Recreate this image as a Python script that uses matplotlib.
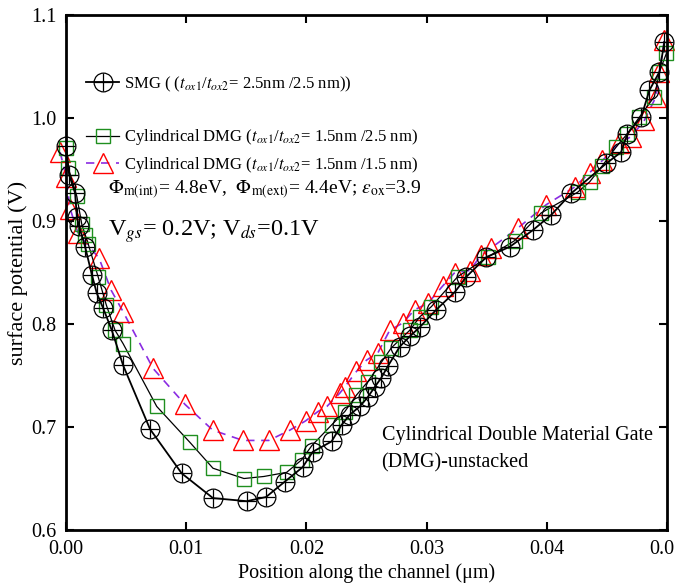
import matplotlib
matplotlib.use("Agg")
import matplotlib.pyplot as plt
import numpy as np

plt.rcParams['font.family'] = ['Liberation Serif', 'DejaVu Serif']
plt.rcParams['mathtext.fontset'] = 'stix'

# SMG (tox1/tox2 = 2.5nm/2.5nm)
smg_x = [0.0000, 0.00025, 0.00075, 0.00089, 0.00108, 0.00158, 0.00214, 0.00255,
         0.00308, 0.0038, 0.00474, 0.00698, 0.00962, 0.01222, 0.01502, 0.01663,
         0.0182, 0.01968, 0.02053, 0.02209, 0.02292, 0.02361, 0.02444, 0.0251,
         0.02569, 0.02624, 0.02677, 0.02776, 0.0286, 0.02943, 0.03081, 0.03234,
         0.03331, 0.03497, 0.03691, 0.03882, 0.04037, 0.04204, 0.04495, 0.04619,
         0.04672, 0.04786, 0.04854, 0.04938, 0.04979]
smg_v = [0.973, 0.945, 0.927, 0.904, 0.895, 0.875, 0.848, 0.830,
         0.8155, 0.794, 0.760, 0.698, 0.655, 0.631, 0.628, 0.632,
         0.647, 0.661, 0.676, 0.686, 0.702, 0.712, 0.720, 0.729,
         0.739, 0.748, 0.759, 0.778, 0.788, 0.797, 0.814, 0.831,
         0.846, 0.865, 0.875, 0.891, 0.906, 0.927, 0.956, 0.967,
         0.985, 1.001, 1.027, 1.045, 1.074]

# Cylindrical DMG (tox1/tox2 = 1.5nm/2.5nm)
dmg1_x = [0.0000, 0.00017, 0.00089, 0.0013, 0.00158, 0.00183, 0.00266, 0.00333,
          0.00407, 0.00474, 0.00754, 0.01031, 0.01222, 0.0148, 0.01646, 0.01835,
          0.01959, 0.02045, 0.02209, 0.02319, 0.02416, 0.0251, 0.02624, 0.02707,
          0.0286, 0.02943, 0.0304, 0.03258, 0.03508, 0.03732, 0.03954, 0.04256,
          0.04356, 0.04464, 0.04578, 0.04672, 0.04771, 0.04896, 0.04938, 0.04996]
dmg1_v = [0.971, 0.952, 0.924, 0.897, 0.887, 0.878, 0.846, 0.819,
          0.794, 0.781, 0.720, 0.685, 0.660, 0.650, 0.652, 0.656,
          0.668, 0.682, 0.702, 0.715, 0.731, 0.744, 0.763, 0.777,
          0.794, 0.807, 0.817, 0.846, 0.865, 0.881, 0.908, 0.928,
          0.938, 0.954, 0.972, 0.985, 1.001, 1.021, 1.045, 1.063]

# Cylindrical DMG (tox1/tox2 = 1.5nm/1.5nm)
dmg2_x = [-0.0005, 0.0000, 0.00033, 0.0010, 0.00274, 0.00374, 0.00474, 0.00723,
          0.00989, 0.0122, 0.01471, 0.01687, 0.01862, 0.01993, 0.02095, 0.0217,
          0.02278, 0.02319, 0.02416, 0.0250, 0.02594, 0.02693, 0.02801, 0.02901,
          0.03009, 0.03134, 0.03234, 0.03358, 0.03455, 0.03538, 0.03757, 0.03996,
          0.04231, 0.04356, 0.04464, 0.04605, 0.04702, 0.04813, 0.0491, 0.04938,
          0.04979]
dmg2_v = [0.967, 0.943, 0.912, 0.888, 0.864, 0.833, 0.812, 0.757,
          0.722, 0.697, 0.687, 0.687, 0.697, 0.706, 0.715, 0.720,
          0.733, 0.739, 0.754, 0.765, 0.772, 0.794, 0.801, 0.814,
          0.820, 0.837, 0.850, 0.852, 0.867, 0.874, 0.893, 0.916,
          0.933, 0.947, 0.959, 0.976, 0.982, 0.998, 1.021, 1.045,
          1.076]

xticks = [0.00, 0.01, 0.02, 0.03, 0.04, 0.05]
yticks = [0.6, 0.7, 0.8, 0.9, 1.0, 1.1]

fig = plt.figure(figsize=(6.75, 5.85), dpi=100)
ax = fig.add_axes([0.098, 0.094, 0.89, 0.880])

purple = '#8a2be2'
green = '#1f8f1f'

l3, = ax.plot(dmg2_x, dmg2_v, '--', color=purple, lw=1.2, dashes=(5, 4),
              marker='^', ms=15, mfc='none', mec='red', mew=1.0, clip_on=False)
l2, = ax.plot(dmg1_x, dmg1_v, '-', color='black', lw=0.9,
              marker='s', ms=10, mfc='none', mec=green, mew=1.0, clip_on=False)
l1a, = ax.plot(smg_x, smg_v, '-', color='black', lw=1.3,
               marker='o', ms=13.5, mfc='none', mec='black', mew=0.9, clip_on=False)
l1b, = ax.plot(smg_x, smg_v, 'none', marker='+', ms=13.5, mec='black', mew=0.9,
               clip_on=False)

leg1 = ax.legend([(l1a, l1b)], [r'SMG ( ($t_{ox1}$/$t_{ox2}$= 2.5nm /2.5 nm))'],
                 loc='upper left', bbox_to_anchor=(0.022, 0.898), frameon=False,
                 fontsize=12, handlelength=2.0, handletextpad=0.3,
                 borderaxespad=0.0)
ax.add_artist(leg1)
ax.legend([l2, l3],
          [r'Cylindrical DMG ($t_{ox1}$/$t_{ox2}$= 1.5nm /2.5 nm)',
           r'Cylindrical DMG ($t_{ox1}$/$t_{ox2}$= 1.5nm /1.5 nm)'],
          loc='upper left', bbox_to_anchor=(0.022, 0.795), frameon=False,
          fontsize=12, handlelength=2.0, handletextpad=0.3, labelspacing=0.45,
          borderaxespad=0.0)

ax.text(0.07, 0.653,
        r'$\Phi_{\rm m(int)}$= 4.8eV,  $\Phi_{\rm m(ext)}$= 4.4eV; $\varepsilon_{\rm ox}$=3.9',
        transform=ax.transAxes, fontsize=14)
ax.text(0.07, 0.572, r'V$_{gs}$= 0.2V; V$_{ds}$=0.1V',
        transform=ax.transAxes, fontsize=17.5)
ax.text(0.525, 0.122, 'Cylindrical Double Material Gate\n(DMG)-unstacked',
        transform=ax.transAxes, fontsize=14.5, linespacing=1.55)

ax.set_xlim(0, 0.05)
ax.set_ylim(0.6, 1.1)
ax.set_xticks(xticks)
ax.set_yticks(yticks)
ax.set_xticklabels(['%.2f' % t for t in xticks])
ax.set_yticklabels(['%.1f' % t for t in yticks])
ax.tick_params(direction='in', top=True, right=True, length=6, width=1.5,
               labelsize=14.5, pad=7)
for s in ax.spines.values():
    s.set_linewidth(2)

ax.set_xlabel('Position along the channel (μm)', fontsize=14.5, labelpad=3)
ax.set_ylabel('surface potential (V)', fontsize=16, labelpad=2)

fig.savefig('out.png', dpi=100)
